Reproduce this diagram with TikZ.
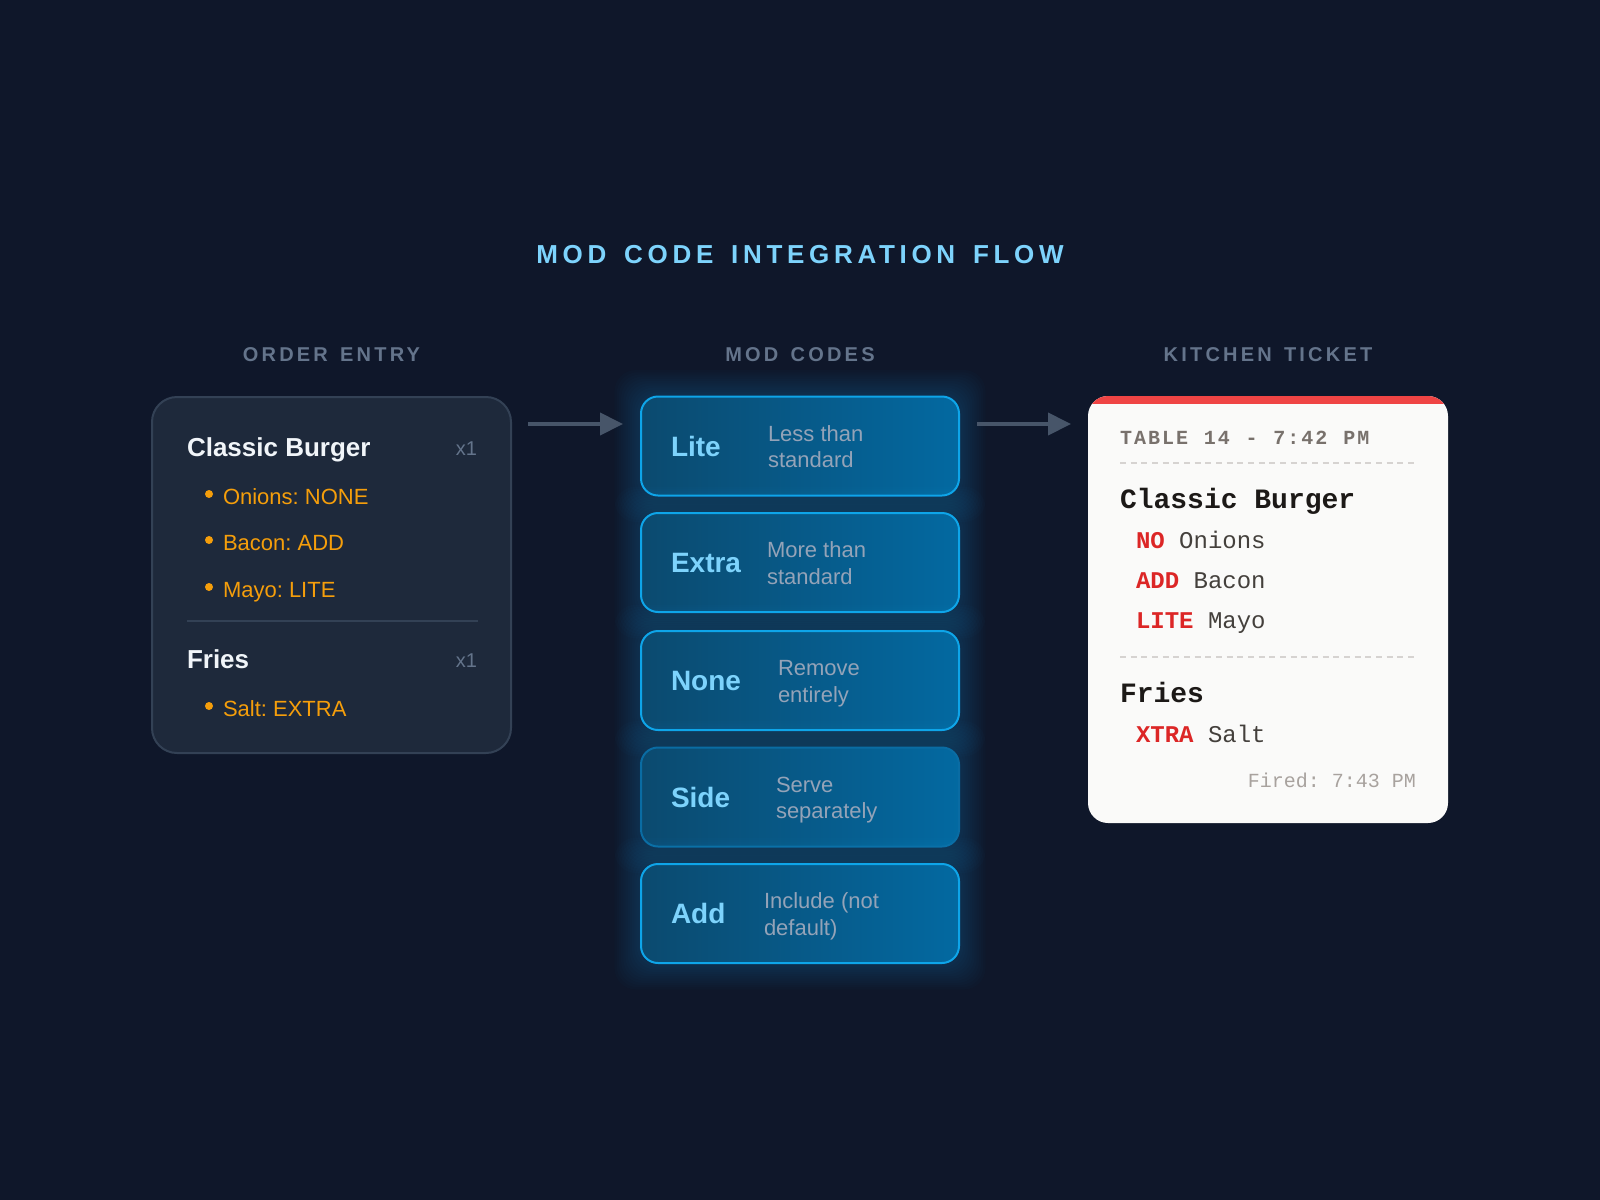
\documentclass[tikz,border=0pt]{standalone}
\usepackage{fontspec}
\setmainfont{Liberation Sans}
\newfontfamily\monof{Liberation Mono}
\newfontfamily\titlef[LetterSpace=18,WordSpace=1.5]{Liberation Sans}
\newfontfamily\headf[LetterSpace=16,WordSpace=1.4]{Liberation Sans}
\newfontfamily\tickf[LetterSpace=10,WordSpace=1.13]{Liberation Mono}
\usetikzlibrary{arrows.meta}
\definecolor{bg}{HTML}{0F172A}
\definecolor{titleblue}{HTML}{7DD3FC}
\definecolor{slatefive}{HTML}{64748B}
\definecolor{obox}{HTML}{1E293B}
\definecolor{obord}{HTML}{334155}
\definecolor{whiteone}{HTML}{F1F5F9}
\definecolor{amber}{HTML}{F59E0B}
\definecolor{arrowc}{HTML}{475569}
\definecolor{modL}{HTML}{0B4A6F}
\definecolor{modR}{HTML}{0369A1}
\definecolor{sky}{HTML}{0EA5E9}
\definecolor{sideb}{HTML}{0A6CA3}
\definecolor{labelblue}{HTML}{7DD3FC}
\definecolor{desc}{HTML}{94A3B8}
\definecolor{paper}{HTML}{FAFAF9}
\definecolor{tred}{HTML}{EF4444}
\definecolor{tredtwo}{HTML}{DC2626}
\definecolor{stonefive}{HTML}{78716C}
\definecolor{stonenine}{HTML}{1C1917}
\definecolor{stoneseven}{HTML}{44403C}
\definecolor{stonefour}{HTML}{A8A29E}
\definecolor{dashc}{HTML}{D6D3D1}
\tikzset{
  txt/.style={inner sep=0pt, outer sep=0pt, anchor=base west},
  modbox/.style={left color=modL, right color=modR, rounded corners=12.75pt,
    minimum width=238.5pt, minimum height=74.25pt, line width=1.5pt, inner sep=0pt},
  flowarrow/.style={draw=arrowc, line width=3pt,
    -{Triangle[length=17.25pt,width=16.5pt]}},
  modlabel/.style={txt, font=\bfseries\fontsize{21}{24}\selectfont, text=labelblue},
  moddesc/.style={txt, font=\fontsize{16.5}{20}\selectfont, text=desc},
  itemname/.style={txt, font=\bfseries\fontsize{19.5}{22}\selectfont, text=whiteone},
  qty/.style={txt, anchor=base east, font=\fontsize{15}{18}\selectfont, text=slatefive},
  moditem/.style={txt, font=\fontsize{16.5}{20}\selectfont, text=amber},
  colhead/.style={txt, anchor=base, font=\headf\bfseries\fontsize{15}{18}\selectfont, text=slatefive},
  tickline/.style={txt, font=\monof\fontsize{18}{22}\selectfont, text=stoneseven},
  tickitem/.style={txt, font=\monof\bfseries\fontsize{21}{24}\selectfont, text=stonenine},
  dashline/.style={draw=dashc, line width=1.5pt, dash pattern=on 4.5pt off 3.5pt}
}
\newcommand{\modbox}[7]{%
  \foreach \g in {1,...,12} {
    \fill[sky, opacity=0.018, rounded corners=16pt]
      (641-\g*2.2, #2-49.5-\g*2.2) rectangle (959+\g*2.2, #2+49.5+\g*2.2);
  }
  \node[modbox, draw=#7] (#1) at (800,#2) {};
  \node[modlabel] (#1-l) at (671,#2+10) {#3};
  \node[moddesc] (#1-d1) at (#6,#2-5) {#4};
  \node[moddesc] (#1-d2) at (#6,#2+21.5) {#5};
}
\newcommand{\bulletdot}[1]{\fill[amber] (209,#1-10) circle[radius=3pt];}
\begin{document}
\frenchspacing
\begin{tikzpicture}[x=0.75pt,y=-0.75pt]
\fill[bg] (0,0) rectangle (1600,1200);
\useasboundingbox (0,0) rectangle (1600,1200);

% title
\node[txt, anchor=base, font=\titlef\bfseries\fontsize{19.5}{22}\selectfont, text=titleblue] (title) at (800,263) {MOD CODE INTEGRATION FLOW};

% column headers
\node[colhead] (h1) at (331.5,361) {ORDER ENTRY};
\node[colhead] (h2) at (800,361) {MOD CODES};
\node[colhead] (h3) at (1268,361) {KITCHEN TICKET};

% order entry
\node[draw=obord, fill=obox, line width=1.5pt, rounded corners=18.75pt,
  minimum width=269.25pt, minimum height=267pt, inner sep=0pt] (order) at (331.5,575) {};
\node[itemname] (burger) at (187,456) {Classic Burger};
\node[qty] (q1) at (477,455) {x1};
\bulletdot{504}
\node[moditem] (o1) at (223,504) {Onions: NONE};
\bulletdot{550}
\node[moditem] (o2) at (223,550) {Bacon: ADD};
\bulletdot{597}
\node[moditem] (o3) at (223,597) {Mayo: LITE};
\draw[obord, line width=1.5pt] (187,621) -- (478,621);
\node[itemname] (fries) at (187,668) {Fries};
\node[qty] (q2) at (477,667) {x1};
\bulletdot{716}
\node[moditem] (o4) at (223,716) {Salt: EXTRA};

% mod codes
\modbox{lite}{446}{Lite}{Less than}{standard}{768}{sky}
\modbox{extra}{562.5}{Extra}{More than}{standard}{767}{sky}
\modbox{none}{680.5}{None}{Remove}{entirely}{778}{sky}
\modbox{side}{797}{Side}{Serve}{separately}{776}{sideb}
\modbox{add}{913.5}{Add}{Include (not}{default)}{764}{sky}

% arrows
\coordinate (a1s) at (528,424);
\coordinate (a1e) at (623,424);
\coordinate (a2s) at (977,424);
\coordinate (a2e) at (1071,424);
\draw[flowarrow] (a1s) -- (a1e);
\draw[flowarrow] (a2s) -- (a2e);

% kitchen ticket
\node[fill=paper, rounded corners=15pt, minimum width=270pt, minimum height=320.25pt, inner sep=0pt] (ticket) at (1268,609.5) {};
\begin{scope}
  \clip[rounded corners=15pt] (1088,396) rectangle (1448,823);
  \fill[tred] (1088,396) rectangle (1448,404);
\end{scope}
\node[txt, font=\tickf\bfseries\fontsize{15}{18}\selectfont, text=stonefive] (thead) at (1120,444) {TABLE 14 - 7:42 PM};
\draw[dashline] (1120,463) -- (1416,463);
\node[tickitem] (tb) at (1120,508) {Classic Burger};
\node[tickline] (t1) at (1136,548) {\textcolor{tredtwo}{\bfseries NO} Onions};
\node[tickline] (t2) at (1136,588) {\textcolor{tredtwo}{\bfseries ADD} Bacon};
\node[tickline] (t3) at (1136,628) {\textcolor{tredtwo}{\bfseries LITE} Mayo};
\draw[dashline] (1120,657) -- (1416,657);
\node[tickitem] (tf) at (1120,702) {Fries};
\node[tickline] (t4) at (1136,742) {\textcolor{tredtwo}{\bfseries XTRA} Salt};
\node[txt, anchor=base east, font=\monof\fontsize{15}{18}\selectfont, text=stonefour] (fired) at (1416,787) {Fired: 7:43 PM};
\end{tikzpicture}
\end{document}
